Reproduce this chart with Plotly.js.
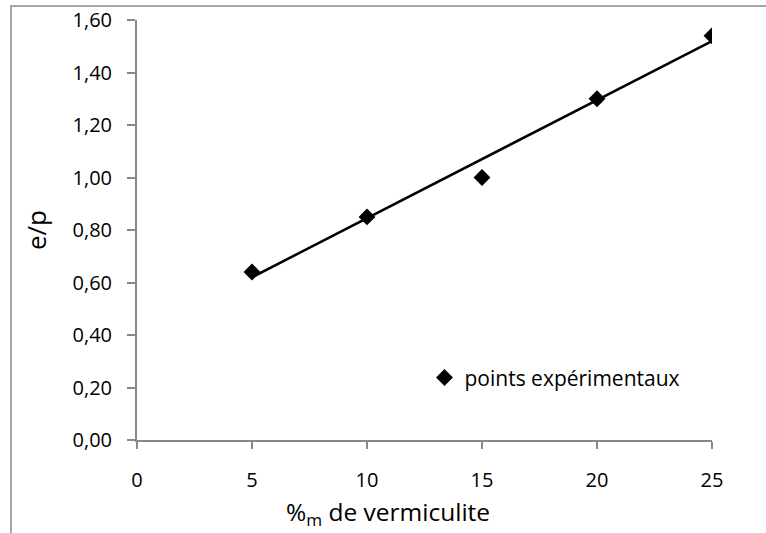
<!DOCTYPE html>
<html>
<head>
<meta charset="utf-8">
<script src="https://cdn.plot.ly/plotly-3.0.1.min.js"></script>
<style>
html,body{margin:0;padding:0;background:#fff;overflow:hidden;}
#chart{position:absolute;left:0;top:0;width:766px;height:533px;}
#frame{position:absolute;left:10px;top:5px;width:800px;height:600px;border-left:2px solid #a6a6a6;border-top:2px solid #a6a6a6;pointer-events:none;}
</style>
</head>
<body>
<div id="chart"></div>
<div id="frame"></div>
<script>
// Data
const pctVermiculite = [5, 10, 15, 20, 25];
const ratioEP = [0.64, 0.85, 1.00, 1.30, 1.54];
const trendX = [5, 25];
const trendY = [0.62, 1.52];
const seriesName = "points expérimentaux";
const xTitle = "%<sub>m</sub> de vermiculite";
const yTitle = "e/p";
const xTickVals = [0, 5, 10, 15, 20, 25];
const yTickVals = [0, 0.2, 0.4, 0.6, 0.8, 1.0, 1.2, 1.4, 1.6];

const FONT = "'Open Sans', sans-serif";

const traces = [
  {
    x: trendX, y: trendY, mode: "lines", type: "scatter",
    line: {color: "#000", width: 2.5}, showlegend: false, hoverinfo: "skip"
  },
  {
    x: pctVermiculite, y: ratioEP, mode: "markers", type: "scatter",
    name: seriesName,
    marker: {symbol: "diamond", size: 13, color: "#000"}
  }
];

const axisCommon = {
  showgrid: false, zeroline: false, showline: true,
  linecolor: "#898989", linewidth: 2,
  ticks: "outside", tickcolor: "#898989", tickwidth: 2,
  tickfont: {family: FONT, size: 20, color: "#000"}
};

const layout = {
  width: 766, height: 533,
  margin: {l: 137, r: 54, t: 20, b: 93},
  paper_bgcolor: "#fff", plot_bgcolor: "#fff",
  separators: ", ",
  font: {family: FONT, color: "#000"},
  xaxis: Object.assign({}, axisCommon, {
    range: [0, 25], tickvals: xTickVals, ticklen: 7,
    ticklabelstandoff: 14
  }),
  yaxis: Object.assign({}, axisCommon, {
    range: [0, 1.6], tickvals: yTickVals, tickformat: ".2f", ticklen: 8,
    ticklabelstandoff: 11,
    title: {text: yTitle, font: {family: FONT, size: 26, color: "#000"}, standoff: 18}
  }),
  annotations: [{
    text: xTitle, xref: "paper", yref: "paper", x: 0.437, y: -0.174,
    xanchor: "center", yanchor: "middle", showarrow: false,
    font: {family: FONT, size: 24.5, color: "#000"}
  }],
  showlegend: true,
  legend: {
    x: 0.5, y: 0.148, xanchor: "left", yanchor: "middle",
    bgcolor: "rgba(0,0,0,0)",
    font: {family: FONT, size: 21, color: "#000"}
  }
};

Plotly.newPlot("chart", traces, layout, {displayModeBar: false, staticPlot: true});
</script>
</body>
</html>
